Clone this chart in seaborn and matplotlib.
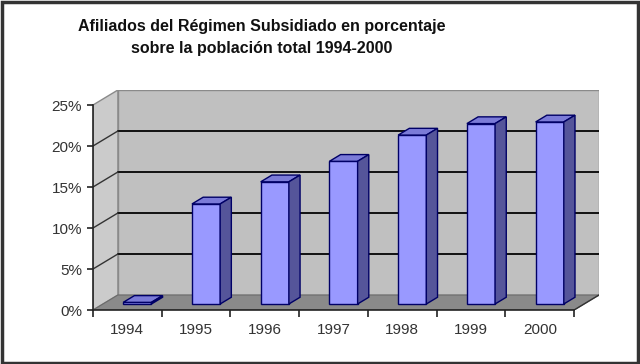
import matplotlib
matplotlib.use("Agg")
import matplotlib.pyplot as plt
import seaborn as sns
import pandas as pd
from matplotlib.patches import Polygon, Rectangle
from matplotlib.ticker import FixedLocator

# ---- data ----
years = ["1994", "1995", "1996", "1997", "1998", "1999", "2000"]
values = [0.2, 12.2, 14.9, 17.4, 20.6, 22.0, 22.2]
yticks = [0, 5, 10, 15, 20, 25]
ytick_labels = ["0%", "5%", "10%", "15%", "20%", "25%"]
title = "Afiliados del Régimen Subsidiado en porcentaje\nsobre la población total 1994-2000"

# ---- style ----
sns.set_theme(style="ticks")
plt.rcParams["font.family"] = ["Liberation Sans", "DejaVu Sans"]

DX, DY = 0.362, 1.83      # full depth offset (data units)
F0, FD = 0.40, 0.45        # bar start depth / bar depth (fractions)

fig = plt.figure(figsize=(6.4, 3.64), dpi=100)
ax = fig.add_axes([93 / 640, 54 / 364, 506 / 640, 220 / 364])

df = pd.DataFrame({"year": years, "value": values})
sns.barplot(data=df, x="year", y="value", color="#9999ff", saturation=1,
            width=0.41, edgecolor="#000066", linewidth=1.0, ax=ax, zorder=5)
bars = list(ax.patches)

X0, X1 = -0.5, len(years) - 0.5
YT = yticks[-1]

# walls and floor
ax.add_patch(Polygon([(X0 + DX, DY), (X1 + DX, DY), (X1 + DX, YT + DY), (X0 + DX, YT + DY)],
                     closed=True, fc="#c0c0c0", ec="#8a8a8a", lw=1.0, zorder=1))
ax.add_patch(Polygon([(X0, 0), (X0 + DX, DY), (X0 + DX, YT + DY), (X0, YT)],
                     closed=True, fc="#cbcbcb", ec="#8a8a8a", lw=1.0, zorder=1))
ax.add_patch(Polygon([(X0, 0), (X1, 0), (X1 + DX, DY), (X0 + DX, DY)],
                     closed=True, fc="#8a8a8a", ec="#6a6a6a", lw=0.8, zorder=2))
for t in yticks[1:-1]:
    ax.plot([X0 + DX, X1 + DX], [t + DY, t + DY], color="#111111", lw=1.4, zorder=1.5)
    ax.plot([X0, X0 + DX], [t, t + DY], color="#333333", lw=1.0, zorder=1.5)
ax.plot([X1, X1 + DX], [0, DY], color="#333333", lw=1.0, zorder=3)

# bars: shift into depth, add top and side faces
bdx, bdy = FD * DX, FD * DY
for p in bars:
    x = p.get_x() + F0 * DX
    y = F0 * DY
    w = p.get_width()
    h = p.get_height()
    p.set_x(x)
    p.set_y(y)
    ax.add_patch(Polygon([(x, y + h), (x + w, y + h), (x + w + bdx, y + h + bdy), (x + bdx, y + h + bdy)],
                         closed=True, fc="#7b7bd8", ec="#000066", lw=1.0, zorder=5))
    ax.add_patch(Polygon([(x + w, y), (x + w + bdx, y + bdy), (x + w + bdx, y + h + bdy), (x + w, y + h)],
                         closed=True, fc="#55559a", ec="#000066", lw=1.0, zorder=5))

ax.set_xlim(X0, X1 + DX)
ax.set_ylim(0, YT + DY)
ax.set_xlabel("")
ax.set_ylabel("")

sns.despine(ax=ax, top=True, right=True)
ax.spines["left"].set_bounds(0, YT)
ax.spines["bottom"].set_bounds(X0, X1)
for s in ("left", "bottom"):
    ax.spines[s].set_color("#222222")
    ax.spines[s].set_linewidth(1.2)
    ax.spines[s].set_zorder(4)

ax.set_yticks(yticks)
ax.set_yticklabels(ytick_labels)
ax.set_xticks(range(len(years)))
ax.set_xticklabels(years)
ax.xaxis.set_minor_locator(FixedLocator([i - 0.5 for i in range(len(years) + 1)]))
ax.tick_params(axis="x", which="major", length=0, pad=9, labelsize=11, labelcolor="#333333")
ax.tick_params(axis="x", which="minor", length=5, width=1.2, color="#222222", direction="out")
ax.tick_params(axis="y", which="major", length=4, width=1.2, color="#222222", pad=4,
               labelsize=11, labelcolor="#333333")

fig.text(262 / 640, 1 - 37.5 / 364, title, ha="center", va="center", fontsize=11.5,
         fontweight="bold", linespacing=1.55, color="#111111")

fig.patches.append(Rectangle((0.003, 0.004), 0.994, 0.99, transform=fig.transFigure,
                             fill=False, ec="#333333", lw=2.5))

fig.savefig("out.png", dpi=100, facecolor="white")
